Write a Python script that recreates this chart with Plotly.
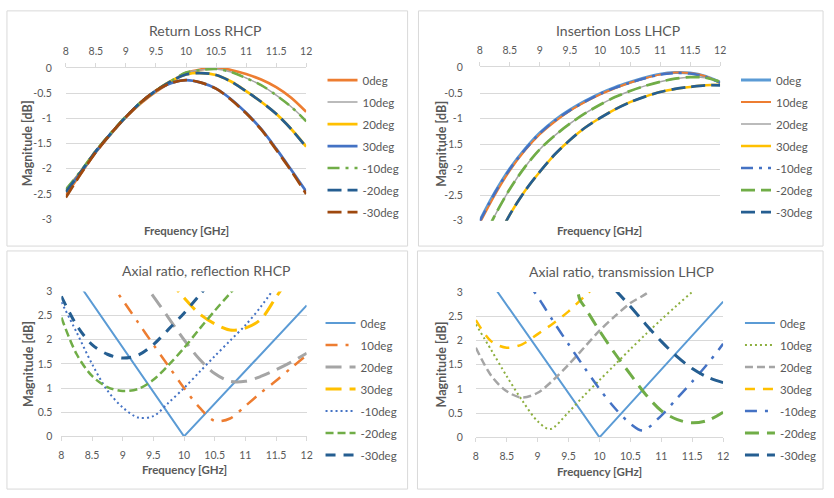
import plotly.graph_objects as go

# ---------------- data ----------------
angles = ["0deg", "10deg", "20deg", "30deg", "-10deg", "-20deg", "-30deg"]
freq = [8.0, 8.25, 8.5, 8.75, 9.0, 9.25, 9.5, 9.75, 10.0, 10.25, 10.5, 10.75, 11.0, 11.25, 11.5, 11.75, 12.0]

# Return Loss RHCP (dB)
rl_0 = [-2.52, -2.09, -1.67, -1.31, -0.98, -0.70, -0.47, -0.28, -0.10, -0.03, 0.0, -0.04, -0.12, -0.23, -0.38, -0.59, -0.87]
rl_10 = [-2.40, -2.04, -1.64, -1.29, -0.96, -0.68, -0.45, -0.26, -0.09, -0.04, -0.02, -0.08, -0.20, -0.34, -0.54, -0.77, -1.05]
rl_20 = [-2.45, -2.06, -1.65, -1.30, -0.97, -0.68, -0.45, -0.26, -0.13, -0.10, -0.14, -0.27, -0.46, -0.67, -0.91, -1.21, -1.56]
rl_30 = [-2.45, -2.07, -1.66, -1.30, -0.97, -0.68, -0.45, -0.30, -0.24, -0.29, -0.41, -0.62, -0.89, -1.21, -1.60, -2.02, -2.45]
rl_m10 = [-2.41, -2.04, -1.64, -1.29, -0.96, -0.68, -0.45, -0.26, -0.09, -0.04, -0.02, -0.08, -0.20, -0.34, -0.54, -0.77, -1.06]
rl_m20 = [-2.46, -2.06, -1.65, -1.30, -0.97, -0.68, -0.45, -0.26, -0.13, -0.10, -0.14, -0.27, -0.46, -0.67, -0.91, -1.21, -1.57]
rl_m30 = [-2.57, -2.10, -1.67, -1.30, -0.97, -0.68, -0.45, -0.30, -0.24, -0.29, -0.41, -0.63, -0.90, -1.22, -1.62, -2.04, -2.50]

# Insertion Loss LHCP (dB)
il_0 = [-3.00, -2.45, -1.98, -1.60, -1.28, -1.03, -0.83, -0.66, -0.51, -0.39, -0.29, -0.20, -0.13, -0.10, -0.11, -0.17, -0.29]
il_10 = [-3.05, -2.50, -2.02, -1.63, -1.31, -1.06, -0.85, -0.68, -0.53, -0.41, -0.30, -0.21, -0.14, -0.10, -0.11, -0.17, -0.30]
il_20 = [-3.50, -2.90, -2.38, -1.95, -1.60, -1.33, -1.10, -0.90, -0.73, -0.58, -0.46, -0.36, -0.28, -0.22, -0.19, -0.20, -0.27]
il_30 = [-4.10, -3.45, -2.88, -2.42, -2.04, -1.70, -1.42, -1.18, -0.99, -0.82, -0.68, -0.57, -0.48, -0.42, -0.38, -0.35, -0.34]
il_m10 = [-3.01, -2.46, -1.99, -1.61, -1.29, -1.04, -0.84, -0.67, -0.52, -0.40, -0.30, -0.21, -0.14, -0.11, -0.12, -0.18, -0.30]
il_m20 = [-3.50, -2.90, -2.38, -1.95, -1.60, -1.33, -1.10, -0.90, -0.73, -0.58, -0.46, -0.36, -0.28, -0.22, -0.19, -0.20, -0.28]
il_m30 = [-4.10, -3.45, -2.88, -2.42, -2.04, -1.70, -1.42, -1.18, -0.99, -0.82, -0.68, -0.57, -0.48, -0.42, -0.38, -0.35, -0.35]

# Axial ratio, reflection RHCP (dB)
arr_0_f = [8.0, 10.0, 12.0]
arr_0 = [3.68, 0.0, 2.71]
arr_10_f = [8.75, 9.0, 9.25, 9.5, 9.75, 10.0, 10.25, 10.5, 10.75, 11.0, 11.25, 11.5, 11.75, 12.0]
arr_10 = [3.27, 2.82, 2.36, 1.90, 1.45, 1.00, 0.60, 0.32, 0.37, 0.63, 0.90, 1.15, 1.42, 1.68]
arr_20_f = [9.25, 9.5, 9.75, 10.0, 10.25, 10.5, 10.75, 11.0, 11.25, 11.5, 11.75, 12.0]
arr_20 = [3.35, 2.90, 2.45, 2.00, 1.60, 1.30, 1.14, 1.14, 1.24, 1.38, 1.54, 1.72]
arr_30_f = [9.75, 10.0, 10.25, 10.5, 10.75, 11.0, 11.25, 11.5, 11.75]
arr_30 = [3.25, 2.87, 2.54, 2.33, 2.20, 2.24, 2.42, 2.88, 3.35]
arr_m10_f = [8.0, 8.25, 8.5, 8.75, 9.0, 9.25, 9.5, 9.75, 10.0, 10.25, 10.5, 10.75, 11.0, 11.25, 11.5]
arr_m10 = [2.78, 2.15, 1.50, 0.95, 0.60, 0.39, 0.42, 0.70, 1.00, 1.33, 1.66, 1.98, 2.30, 2.68, 3.12]
arr_m20_f = [8.0, 8.25, 8.5, 8.75, 9.0, 9.25, 9.5, 9.75, 10.0, 10.25, 10.5, 10.75, 11.0]
arr_m20 = [2.46, 1.70, 1.25, 1.02, 0.94, 0.98, 1.17, 1.48, 1.83, 2.22, 2.60, 2.96, 3.32]
arr_m30_f = [8.0, 8.25, 8.5, 8.75, 9.0, 9.25, 9.5, 9.75, 10.0, 10.25, 10.5]
arr_m30 = [2.90, 2.30, 1.90, 1.70, 1.62, 1.68, 1.90, 2.22, 2.55, 2.92, 3.30]

# Axial ratio, transmission LHCP (dB)
art_0_f = [8.0, 10.0, 12.0]
art_0 = [3.64, 0.0, 2.80]
art_10_f = [8.0, 8.25, 8.5, 8.75, 9.0, 9.2, 9.5, 9.75, 10.0, 10.25, 10.5, 10.75, 11.0, 11.25, 11.5, 11.75]
art_10 = [2.33, 1.80, 1.26, 0.76, 0.33, 0.17, 0.52, 0.86, 1.18, 1.50, 1.82, 2.13, 2.43, 2.72, 3.00, 3.28]
art_20_f = [8.0, 8.25, 8.5, 8.75, 9.0, 9.25, 9.5, 9.75, 10.0, 10.25, 10.5, 10.75, 11.0]
art_20 = [1.85, 1.27, 0.95, 0.82, 0.92, 1.18, 1.50, 1.85, 2.20, 2.50, 2.77, 2.96, 3.22]
art_30_f = [8.0, 8.25, 8.5, 8.75, 9.0, 9.25, 9.5, 9.75, 10.0]
art_30 = [2.42, 1.98, 1.85, 1.92, 2.13, 2.35, 2.60, 2.90, 3.20]
art_m10_f = [8.75, 9.0, 9.25, 9.5, 9.75, 10.0, 10.25, 10.5, 10.7, 11.0, 11.25, 11.5, 11.75, 12.0]
art_m10 = [3.35, 2.90, 2.40, 1.92, 1.45, 1.00, 0.60, 0.28, 0.14, 0.45, 0.80, 1.15, 1.52, 1.93]
art_m20_f = [9.6, 9.68, 9.75, 10.0, 10.25, 10.5, 10.75, 11.0, 11.25, 11.5, 11.75, 12.0]
art_m20 = [3.40, 2.85, 2.71, 2.20, 1.73, 1.30, 0.88, 0.55, 0.37, 0.30, 0.35, 0.52]
art_m30_f = [10.25, 10.5, 10.75, 11.0, 11.25, 11.5, 11.75, 12.0]
art_m30 = [3.05, 2.70, 2.33, 1.98, 1.67, 1.42, 1.24, 1.13]

freq_tick_vals = [8, 8.5, 9, 9.5, 10, 10.5, 11, 11.5, 12]
freq_tick_text = ["8", "8.5", "9", "9.5", "10", "10.5", "11", "11.5", "12"]
loss_tick_vals = [0, -0.5, -1, -1.5, -2, -2.5, -3]
loss_tick_text = ["0", "-0.5", "-1", "-1.5", "-2", "-2.5", "-3"]
ar_tick_vals = [0, 0.5, 1, 1.5, 2, 2.5, 3]
ar_tick_text = ["0", "0.5", "1", "1.5", "2", "2.5", "3"]

titles = ["Return Loss RHCP", "Insertion Loss LHCP",
          "Axial ratio, reflection RHCP", "Axial ratio, transmission LHCP"]

# ---------------- styles ----------------
BLUE_L = "#5B9BD5"; ORANGE = "#ED7D31"; GRAY = "#A5A5A5"; GOLD = "#FFC000"
BLUE = "#4472C4"; GREEN = "#70AD47"; NAVY = "#255E91"; BROWN = "#9E480E"; OLIVE = "#8DAF3F"
LDASHDOT = "12px,6px,3px,6px"
LDASH = "14px,6px"

W, H = 834, 498
FONT = "Lato"
TXT = "#595959"
GRID = "#D9D9D9"

panels = [
    dict(series=[(freq, rl_0), (freq, rl_10), (freq, rl_20), (freq, rl_30),
                 (freq, rl_m10), (freq, rl_m20), (freq, rl_m30)],
         styles=[(ORANGE, 2.75, "solid", "spline"), (GRAY, 1.5, "solid", "spline"),
                 (GOLD, 2.75, "solid", "spline"), (BLUE, 2.75, "solid", "spline"),
                 (GREEN, 2.5, LDASHDOT, "spline"), (NAVY, 2.75, LDASH, "spline"),
                 (BROWN, 2.75, LDASH, "spline")]),
    dict(series=[(freq, il_0), (freq, il_10), (freq, il_20), (freq, il_30),
                 (freq, il_m10), (freq, il_m20), (freq, il_m30)],
         styles=[(BLUE_L, 3, "solid", "spline"), (ORANGE, 2, "solid", "spline"),
                 (GRAY, 1.5, "solid", "spline"), (GOLD, 2.5, "solid", "spline"),
                 (BLUE, 2.5, LDASHDOT, "spline"), (GREEN, 2.75, LDASH, "spline"),
                 (NAVY, 2.75, LDASH, "spline")]),
    dict(series=[(arr_0_f, arr_0), (arr_10_f, arr_10), (arr_20_f, arr_20), (arr_30_f, arr_30),
                 (arr_m10_f, arr_m10), (arr_m20_f, arr_m20), (arr_m30_f, arr_m30)],
         styles=[(BLUE_L, 2, "solid", "linear"), (ORANGE, 2.5, "12px,8px,3px,8px", "spline"),
                 (GRAY, 3, "16px,8px", "spline"), (GOLD, 3, "16px,8px", "spline"),
                 (BLUE, 2, "2px,3px", "spline"), (GREEN, 2.5, "8px,4px", "spline"),
                 (NAVY, 3, "10px,8px", "spline")]),
    dict(series=[(art_0_f, art_0), (art_10_f, art_10), (art_20_f, art_20), (art_30_f, art_30),
                 (art_m10_f, art_m10), (art_m20_f, art_m20), (art_m30_f, art_m30)],
         styles=[(BLUE_L, 2, "solid", "linear"), (OLIVE, 2, "2px,3px", "spline"),
                 (GRAY, 2.5, "8px,4px", "spline"), (GOLD, 2.5, "10px,8px", "spline"),
                 (BLUE, 2.5, "12px,8px,3px,8px", "spline"), (GREEN, 3, "14px,8px", "spline"),
                 (NAVY, 3, "14px,8px", "spline")]),
]

# pixel geometry of each panel
geo = [
    dict(px=(63.5, 306.5), py=(63.5, 218.5), frame=(4, 5, 409, 246), leg=(323, 61),
         title=(205, 25), xt=(185, 230), yt=(25, 141), ystand=13),
    dict(px=(482, 725), py=(63, 220), frame=(420, 5, 829, 246), leg=(741, 61),
         title=(622, 25), xt=(603, 230), yt=(443, 141), ystand=16),
    dict(px=(59, 307), py=(292.5, 441), frame=(4, 251, 409, 495), leg=(321, 310),
         title=(205, 271), xt=(183, 475), yt=(25, 367), ystand=8),
    dict(px=(478, 728), py=(293, 442), frame=(419, 251, 829, 495), leg=(745, 310),
         title=(625, 272), xt=(603, 477), yt=(443, 367), ystand=12),
]

def px2x(v):
    return v / W

def px2y(v):
    return 1 - v / H

fig = go.Figure()
layout = dict(width=W, height=H, margin=dict(l=0, r=0, t=0, b=0),
              paper_bgcolor="white", plot_bgcolor="white",
              font=dict(family=FONT, color=TXT), showlegend=True)
annotations = []
shapes = []

for i, (pan, g) in enumerate(zip(panels, geo)):
    n = i + 1
    xa = "x" if n == 1 else f"x{n}"
    ya = "y" if n == 1 else f"y{n}"
    leg = "legend" if n == 1 else f"legend{n}"
    for name, (fx, fy), (col, wd, dash, shape) in zip(angles, pan["series"], pan["styles"]):
        fig.add_trace(go.Scatter(
            x=fx, y=fy, name=name, mode="lines", xaxis=xa, yaxis=ya, legend=leg,
            legendgroup=f"p{n}_{name}",
            line=dict(color=col, width=wd, dash=dash, shape=shape, smoothing=0.9),
            hoverinfo="skip"))
    loss = n <= 2
    layout["xaxis" if n == 1 else f"xaxis{n}"] = dict(
        domain=[px2x(g["px"][0]), px2x(g["px"][1])], anchor=ya,
        range=[8, 12], tickvals=freq_tick_vals, ticktext=freq_tick_text,
        side="top" if loss else "bottom",
        showgrid=False, zeroline=False, showline=True, linecolor=GRID, linewidth=1,
        ticks="outside", ticklen=4, tickcolor=GRID, ticklabelstandoff=4 if loss else 5,
        tickfont=dict(size=10.5, color=TXT, family=FONT), fixedrange=True)
    layout["yaxis" if n == 1 else f"yaxis{n}"] = dict(
        domain=[px2y(g["py"][1]), px2y(g["py"][0])], anchor=xa,
        range=[-3, 0] if loss else [0, 3],
        tickvals=loss_tick_vals if loss else ar_tick_vals,
        ticktext=loss_tick_text if loss else ar_tick_text,
        showgrid=True, gridcolor=GRID, gridwidth=1, zeroline=False, showline=False,
        ticks="", ticklabelstandoff=g["ystand"],
        tickfont=dict(size=10.5, color=TXT, family=FONT), fixedrange=True)
    layout[leg] = dict(x=px2x(g["leg"][0]), y=px2y(g["leg"][1]), xanchor="left", yanchor="top",
                       bgcolor="rgba(0,0,0,0)", tracegroupgap=3,
                       font=dict(size=11.5, color=TXT, family=FONT))
    fx0, fy0, fx1, fy1 = g["frame"]
    shapes.append(dict(type="rect", xref="paper", yref="paper",
                       x0=px2x(fx0), x1=px2x(fx1), y0=px2y(fy1), y1=px2y(fy0),
                       line=dict(color=GRID, width=1), fillcolor="rgba(0,0,0,0)", layer="below"))
    annotations.append(dict(text=titles[i], x=px2x(g["title"][0]), y=px2y(g["title"][1]),
                            xref="paper", yref="paper", showarrow=False,
                            xanchor="center", yanchor="middle",
                            font=dict(size=14, color=TXT, family=FONT)))
    annotations.append(dict(text="<b>Frequency [GHz]</b>", x=px2x(g["xt"][0]), y=px2y(g["xt"][1]),
                            xref="paper", yref="paper", showarrow=False,
                            xanchor="center", yanchor="middle",
                            font=dict(size=11.5, color=TXT, family=FONT)))
    annotations.append(dict(text="<b>Magnitude [dB]</b>", x=px2x(g["yt"][0]), y=px2y(g["yt"][1]),
                            xref="paper", yref="paper", showarrow=False, textangle=-90,
                            xanchor="center", yanchor="middle",
                            font=dict(size=12.5, color=TXT, family=FONT)))

layout["annotations"] = annotations
layout["shapes"] = shapes
fig.update_layout(**layout)
fig.write_html("out.html")
